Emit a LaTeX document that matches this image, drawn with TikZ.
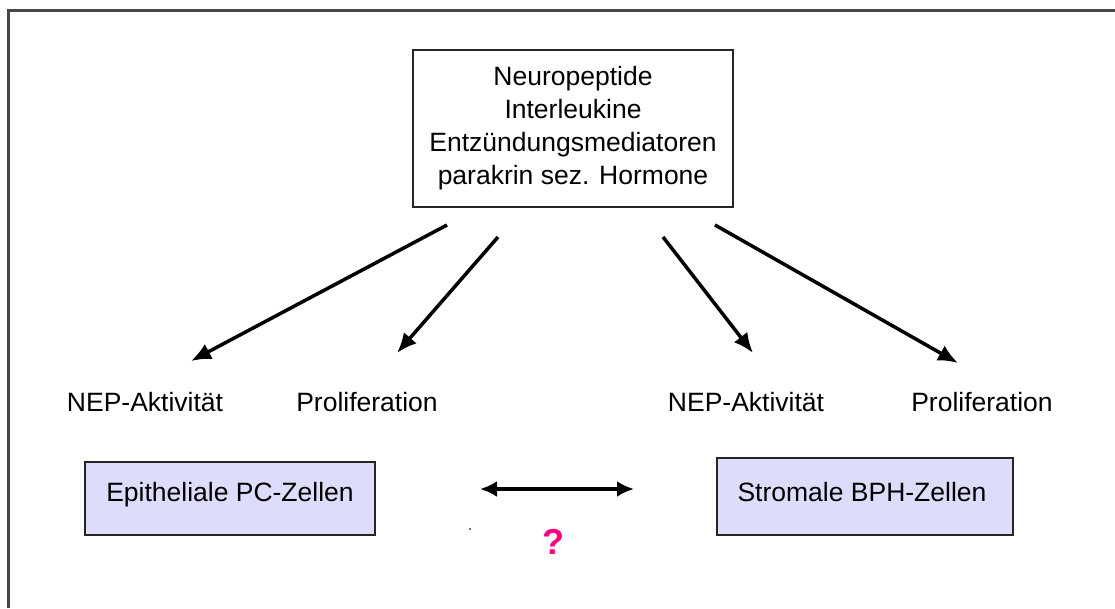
\documentclass[tikz,border=0pt]{standalone}
\usepackage{fontspec}
\setmainfont{Liberation Sans}
\usetikzlibrary{arrows.meta}
\definecolor{lav}{RGB}{221,221,251}
\definecolor{qmark}{RGB}{255,0,128}
\definecolor{frame}{RGB}{70,70,70}
\begin{document}
\begin{tikzpicture}[x=1pt,y=-1pt,
  lbl/.style={inner sep=0pt,font=\fontsize{26.5}{33}\selectfont},
  cellbox/.style={draw=black!85,line width=2.2pt,fill=lav,inner sep=0pt},
  srcbox/.style={draw=black!85,line width=2pt,fill=white,inner sep=0pt,align=center,
    minimum width=320pt,minimum height=157pt,font=\fontsize{26.5}{33}\selectfont},
  conn/.style={line width=3.5pt,-{Latex[length=20pt,width=17pt]}},
  dconn/.style={line width=3.5pt,{Latex[length=17pt,width=16pt]}-{Latex[length=17pt,width=16pt]}}]
\useasboundingbox (0,0) rectangle (1115,608);
\fill[white] (0,0) rectangle (1115,608);
\draw[frame,line width=3pt] (8,608) -- (8,10) -- (1115,10);
% source box
\node[srcbox] (src) at (573,128.5) {Neuropeptide\\Interleukine\\Entzündungsmediatoren\\parakrin sez. Hormone};
% labels
\node[lbl] (nep1) at (145,402) {NEP-Aktivität};
\node[lbl] (pro1) at (367,402) {Proliferation};
\node[lbl] (nep2) at (746,402) {NEP-Aktivität};
\node[lbl] (pro2) at (982,402) {Proliferation};
% cell boxes
\node[cellbox,minimum width=290pt,minimum height=73pt] (epi) at (230,498.5) {};
\node[lbl] (epit) at (230,495) {Epitheliale PC-Zellen};
\node[cellbox,minimum width=296pt,minimum height=77pt] (str) at (865,496.5) {};
\node[lbl] (strt) at (862,492) {Stromale BPH-Zellen};
% arrow endpoints
\coordinate (s1) at (447,225);
\coordinate (e1) at (191,361);
\coordinate (s2) at (498,237);
\coordinate (e2) at (397,353);
\coordinate (s3) at (663,237);
\coordinate (e3) at (753,353);
\coordinate (s4) at (715,225);
\coordinate (e4) at (958,363);
\draw[conn] (s1) -- (e1);
\draw[conn] (s2) -- (e2);
\draw[conn] (s3) -- (e3);
\draw[conn] (s4) -- (e4);
% double arrow
\coordinate (dl) at (480,489);
\coordinate (dr) at (634,489);
\draw[dconn] (dl) -- (dr);
\node[inner sep=0pt,text=qmark,font=\fontsize{36}{40}\selectfont\bfseries] (q) at (553,542) {?};
\fill[black!70] (470,529) circle (1.2pt);
\end{tikzpicture}
\end{document}
